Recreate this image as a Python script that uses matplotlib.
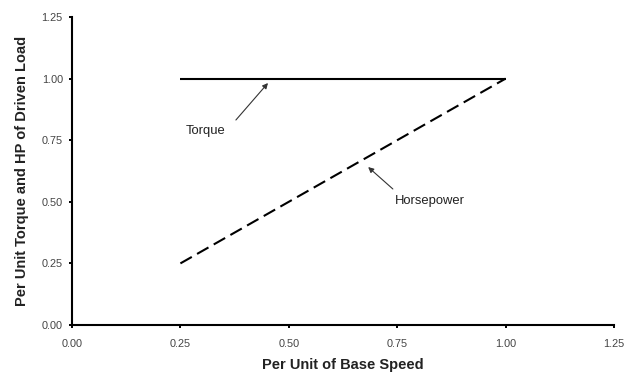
import matplotlib
matplotlib.use("Agg")
import matplotlib.pyplot as plt

plt.rcParams['font.family'] = ['Liberation Sans', 'DejaVu Sans']

speed_torque = [0.25, 1.00]
torque = [1.00, 1.00]
speed_hp = [0.25, 1.00]
horsepower = [0.25, 1.00]
ticks = [0.00, 0.25, 0.50, 0.75, 1.00, 1.25]
tick_labels = ["0.00", "0.25", "0.50", "0.75", "1.00", "1.25"]

fig = plt.figure(figsize=(6.36, 3.76), dpi=100)
ax = fig.add_axes([72/636, 51/376, 542/636, 308/376])

ax.plot(speed_torque, torque, color='black', lw=1.5, solid_capstyle='butt')
ax.plot(speed_hp, horsepower, color='black', lw=1.5, dashes=(6.3, 2.9), dash_capstyle='butt')

ax.set_xlim(0, 1.25)
ax.set_ylim(0, 1.25)
ax.set_xticks(ticks)
ax.set_xticklabels(tick_labels)
ax.set_yticks(ticks)
ax.set_yticklabels(tick_labels)
for s in ['top', 'right']:
    ax.spines[s].set_visible(False)
for s in ['left', 'bottom']:
    ax.spines[s].set_linewidth(1.5)
ax.tick_params(direction='out', length=2.3, width=1.4, labelsize=7.8, labelcolor='#444444')
ax.tick_params(axis='x', pad=8)
ax.tick_params(axis='y', pad=4.3)

ax.set_xlabel("Per Unit of Base Speed", fontsize=10.5, fontweight='bold', color='#222222', labelpad=6)
ax.set_ylabel("Per Unit Torque and HP of Driven Load", fontsize=10.5, fontweight='bold', color='#222222', labelpad=9)

ax.text(0.307, 0.787, "Torque", fontsize=9.4, color='#222222', ha='center', va='center')
ax.annotate("", xy=(0.452, 0.982), xytext=(0.378, 0.832),
            arrowprops=dict(arrowstyle='-|>', color='#333333', lw=0.8, mutation_scale=8, shrinkA=0, shrinkB=0))
ax.text(0.826, 0.503, "Horsepower", fontsize=9.4, color='#222222', ha='center', va='center')
ax.annotate("", xy=(0.683, 0.641), xytext=(0.740, 0.552),
            arrowprops=dict(arrowstyle='-|>', color='#333333', lw=0.8, mutation_scale=8, shrinkA=0, shrinkB=0))

fig.savefig("out.png", dpi=100)
